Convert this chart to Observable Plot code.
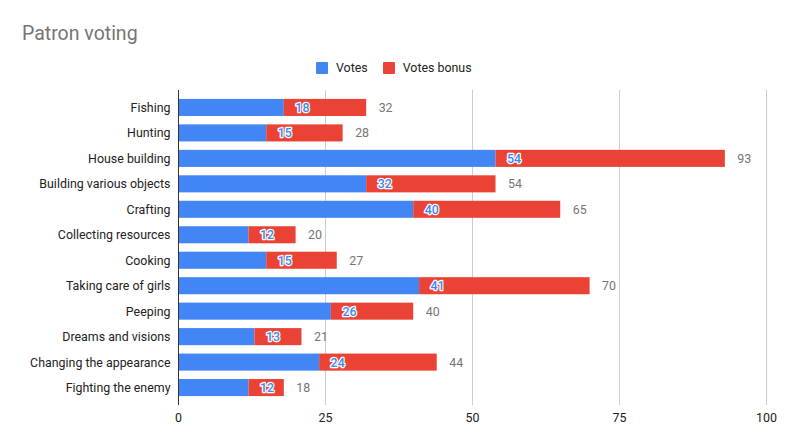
<!DOCTYPE html>
<html>
<head>
<meta charset="utf-8">
<script src="https://cdn.jsdelivr.net/npm/d3@7"></script>
<script src="https://cdn.jsdelivr.net/npm/@observablehq/plot@0.6"></script>
<style>
  html, body { margin: 0; padding: 0; background: #fff; }
  body { width: 789px; height: 448px; position: relative; overflow: hidden; font-family: Roboto, Arial, sans-serif; }
  #title { position: absolute; left: 22px; top: 22px; font-size: 19.5px; line-height: 24px; color: #757575; }
  #legend { position: absolute; left: 316px; top: 61px; font-size: 12.4px; line-height: 14px; color: #222; display: flex; align-items: center; }
  .sw { display: inline-block; width: 12px; height: 12px; border-radius: 1px; margin-right: 8px; }
  .item { display: flex; align-items: center; margin-right: 15px; }
  #chart { position: absolute; left: 0; top: 80px; }
</style>
</head>
<body>
<div id="title">Patron voting</div>
<div id="legend"></div>
<div id="chart"></div>
<script>
const categories = ["Fishing", "Hunting", "House building", "Building various objects", "Crafting", "Collecting resources", "Cooking", "Taking care of girls", "Peeping", "Dreams and visions", "Changing the appearance", "Fighting the enemy"];
const votes = [18, 15, 54, 32, 40, 12, 15, 41, 26, 13, 24, 12];
const votesBonus = [14, 13, 39, 22, 25, 8, 12, 29, 14, 8, 20, 6];
const seriesNames = ["Votes", "Votes bonus"];
const seriesColors = ["#4285f4", "#ea4335"];
const xTicks = [0, 25, 50, 75, 100];

const rows = categories.map((c, i) => ({category: c, votes: votes[i], bonus: votesBonus[i], total: votes[i] + votesBonus[i]}));
const long = [];
categories.forEach((c, i) => {
  long.push({category: c, series: seriesNames[0], value: votes[i]});
  long.push({category: c, series: seriesNames[1], value: votesBonus[i]});
});

const legend = document.getElementById("legend");
seriesNames.forEach((s, i) => {
  const it = document.createElement("div");
  it.className = "item";
  it.innerHTML = `<span class="sw" style="background:${seriesColors[i]}"></span><span>${s}</span>`;
  legend.appendChild(it);
});

const chart = Plot.plot({
  width: 789,
  height: 368,
  marginTop: 10,
  marginBottom: 43,
  marginLeft: 178,
  marginRight: 23,
  style: {fontFamily: 'Roboto, Arial, sans-serif', fontSize: "12.4px", color: "#222", background: "white"},
  x: {domain: [0, 100], ticks: xTicks, label: null},
  y: {domain: categories, paddingInner: 0.33, paddingOuter: 0.35, round: false, label: null},
  color: {domain: seriesNames, range: seriesColors},
  marks: [
    Plot.gridX(xTicks.filter(d => d > 0), {stroke: "#cccccc", strokeOpacity: 1}),
    Plot.barX(long, Plot.stackX({x: "value", y: "category", fill: "series", order: seriesNames})),
    Plot.ruleX([0], {stroke: "#333"}),
    Plot.axisX({ticks: xTicks, tickSize: 0, tickPadding: 8, fill: "#222", label: null}),
    Plot.axisY({tickSize: 0, tickPadding: 8, fill: "#222", label: null}),
    Plot.text(rows, {x: "votes", y: "category", text: d => String(d.votes), textAnchor: "start", dx: 11, fill: "#4285f4", stroke: "white", strokeWidth: 2.5, fontWeight: 500, fontSize: 12.4, paintOrder: "stroke"}),
    Plot.text(rows, {x: "total", y: "category", text: d => String(d.total), textAnchor: "start", dx: 12, fill: "#757575", fontSize: 12.4})
  ]
});
document.getElementById("chart").appendChild(chart);
</script>
</body>
</html>
